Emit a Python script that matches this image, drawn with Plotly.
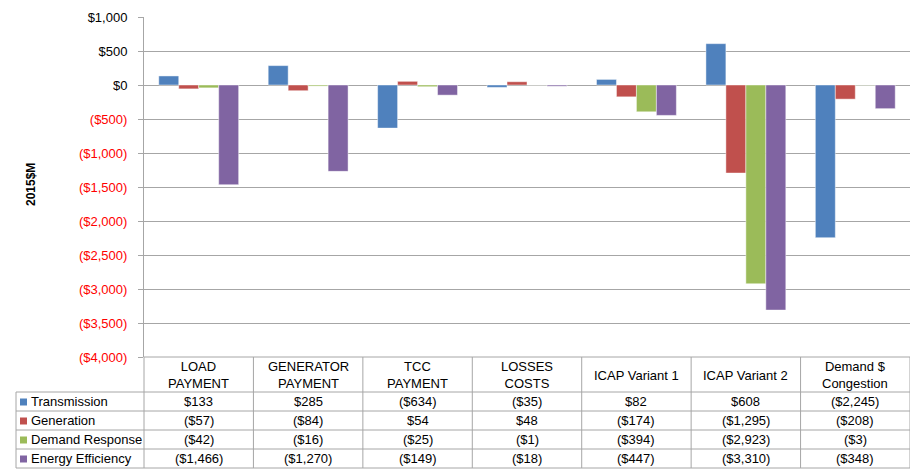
import plotly.graph_objects as go

# ---------------- data ----------------
categories = ["LOAD<br>PAYMENT", "GENERATOR<br>PAYMENT", "TCC<br>PAYMENT", "LOSSES<br>COSTS",
              "ICAP Variant 1", "ICAP Variant 2", "Demand $<br>Congestion"]
series_names = ["Transmission", "Generation", "Demand Response", "Energy Efficiency"]
transmission = [133, 285, -634, -35, 82, 608, -2245]
generation = [-57, -84, 54, 48, -174, -1295, -208]
demand_response = [-42, -16, -25, -1, -394, -2923, -3]
energy_efficiency = [-1466, -1270, -149, -18, -447, -3310, -348]
y_ticks = [1000, 500, 0, -500, -1000, -1500, -2000, -2500, -3000, -3500, -4000]

series_values = [transmission, generation, demand_response, energy_efficiency]
colors = ["#4F81BD", "#C0504D", "#9BBB59", "#8064A2"]

W, H = 911, 471
L, R, T, B = 144, 910, 17, 357  # plot area in pixels


def fmt(v):
    s = f"${abs(v):,}"
    return f"({s})" if v < 0 else s


def py(p):  # pixel y -> paper y
    return (B - p) / (B - T)


def px(p):  # pixel x -> paper x
    return (p - L) / (R - L)


xs = list(range(len(categories)))
fig = go.Figure()
for name, vals, c in zip(series_names, series_values, colors):
    fig.add_trace(go.Bar(x=xs, y=vals, name=name, marker_color=c,
                         marker_line=dict(color="rgba(255,255,255,0.45)", width=1)))

ticktext = [fmt(v) if v >= 0 else f"<span style='color:#FF0000'>{fmt(v)}</span>" for v in y_ticks]

grid = "#A6A6A6"
fig.update_layout(
    width=W, height=H,
    margin=dict(l=L, r=W - R, t=T, b=H - B, autoexpand=False),
    paper_bgcolor="white", plot_bgcolor="white",
    font=dict(family="Liberation Sans, Arial", size=12, color="black"),
    barmode="group", bargap=0.27, bargroupgap=0,
    showlegend=False,
    xaxis=dict(range=[-0.5, len(categories) - 0.5], showticklabels=False, showgrid=False,
               zeroline=False, showline=False, fixedrange=True, automargin=False),
    yaxis=dict(range=[-4000, 1000], tickvals=y_ticks, ticktext=ticktext,
               showgrid=True, gridcolor=grid, gridwidth=1,
               zeroline=True, zerolinecolor=grid, zerolinewidth=1,
               showline=True, linecolor=grid, linewidth=1,
               ticks="outside", ticklen=5, tickcolor=grid, ticklabelstandoff=8,
               tickfont=dict(size=13), automargin=False, fixedrange=True),
)

shapes = []
line = dict(color=grid, width=1)
row_lines = [392, 411, 430, 449, 468]
# horizontal table lines
shapes.append(dict(type="line", xref="paper", yref="paper", x0=0, x1=1, y0=py(B), y1=py(B), line=line))
for r in row_lines:
    shapes.append(dict(type="line", xref="paper", yref="paper", x0=px(16), x1=1, y0=py(r), y1=py(r), line=line))
# vertical table lines
shapes.append(dict(type="line", xref="paper", yref="paper", x0=px(16), x1=px(16), y0=py(392), y1=py(468), line=line))
shapes.append(dict(type="line", xref="paper", yref="paper", x0=0, x1=0, y0=py(B), y1=py(468), line=line))
for i in range(len(categories)):
    shapes.append(dict(type="line", xref="x", yref="paper", x0=i + 0.5, x1=i + 0.5,
                       y0=py(B), y1=py(468), line=line))
# legend keys
row_centers = [(row_lines[k] + row_lines[k + 1]) / 2 for k in range(4)]
for c, rc in zip(colors, row_centers):
    shapes.append(dict(type="rect", xref="paper", yref="paper", x0=px(20), x1=px(27),
                       y0=py(rc + 4), y1=py(rc - 3), fillcolor=c, line=dict(width=0)))

ann = [dict(x=px(31), y=py(185), xref="paper", yref="paper", text="<b>2015$M</b>", textangle=-90,
            showarrow=False, font=dict(size=12), xanchor="center", yanchor="middle")]
for i, cat in enumerate(categories):
    ann.append(dict(x=i, y=py(375), xref="x", yref="paper", text=cat, showarrow=False,
                    font=dict(size=13), xanchor="center", yanchor="middle"))
for name, vals, rc in zip(series_names, series_values, row_centers):
    ann.append(dict(x=px(29), y=py(rc), xref="paper", yref="paper", text=name, showarrow=False,
                    font=dict(size=13), xanchor="left", yanchor="middle"))
    for i, v in enumerate(vals):
        ann.append(dict(x=i, y=py(rc), xref="x", yref="paper", text=fmt(v), showarrow=False,
                        font=dict(size=13), xanchor="center", yanchor="middle"))

fig.update_layout(shapes=shapes, annotations=ann)
fig.write_html("out.html", config={"displayModeBar": False},
               post_script="document.body.style.margin='0';document.body.style.overflow='hidden';")
